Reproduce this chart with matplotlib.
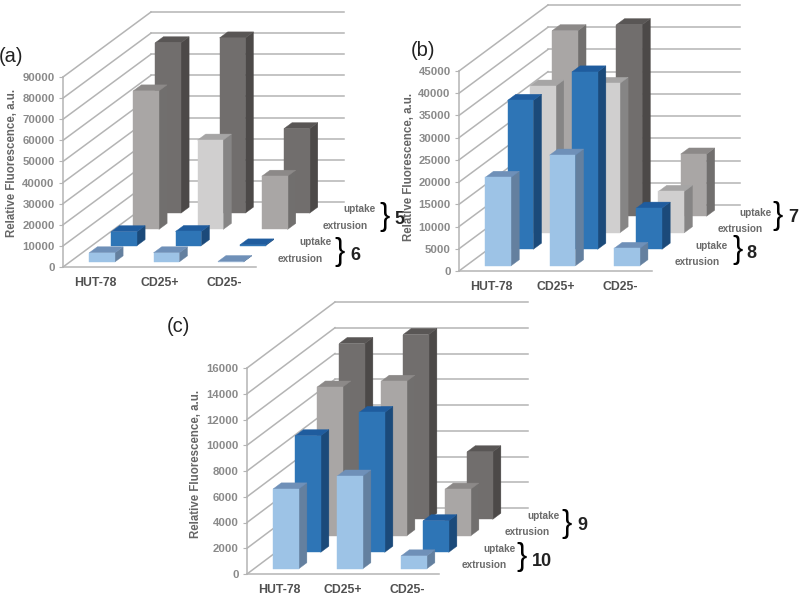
import matplotlib
matplotlib.use("Agg")
import matplotlib.pyplot as plt
from matplotlib.patches import Polygon

plt.rcParams["font.family"] = ["Liberation Sans", "DejaVu Sans"]

W_PX, H_PX = 800, 595

categories = ["HUT-78", "CD25+", "CD25-"]

# rows go front to back: blue extrusion, blue uptake, grey extrusion, grey uptake
values_a = [[4300, 4300, 150], [6600, 6700, 350], [65600, 42300, 25200], [80700, 83000, 40000]]
values_b = [[19900, 24900, 3900], [33500, 39900, 9250], [33000, 33600, 9300], [41750, 43100, 14000]]
values_c = [[6200, 7200, 1000], [9050, 10860, 2450], [11550, 12000, 3620], [13650, 14350, 5240]]

ticks_a = list(range(0, 90001, 10000))
ticks_b = list(range(0, 45001, 5000))
ticks_c = list(range(0, 16001, 2000))

# front, side, top
LIGHT_BLUE = ("#9dc3e6", "#64809f", "#6f90b8")
BLUE = ("#2e75b6", "#1b4a7a", "#1f5c9e")
MID_GREY = ("#a9a6a5", "#716f6e", "#8c8988")
LIGHT_GREY = ("#d0cfcf", "#868585", "#a6a5a5")
DARK_GREY = ("#716e6d", "#4c4948", "#595655")

colors_a = [[LIGHT_BLUE] * 3, [BLUE] * 3, [MID_GREY, LIGHT_GREY, MID_GREY], [DARK_GREY] * 3]
colors_b = [[LIGHT_BLUE] * 3, [BLUE] * 3, [LIGHT_GREY] * 3, [MID_GREY, DARK_GREY, MID_GREY]]
colors_c = [[LIGHT_BLUE] * 3, [BLUE] * 3, [MID_GREY] * 3, [DARK_GREY] * 3]

GRID = "#b4b4b4"
fig = plt.figure(figsize=(W_PX / 100, H_PX / 100), dpi=100)


def ftext(x, y, s, **kw):
    kw.setdefault("ha", "center")
    kw.setdefault("va", "center")
    fig.text(x / W_PX, 1 - y / H_PX, s, **kw)


def panel(left, right, bottom, top, depth_x, depth_y, back_end, ticks, values, colors):
    ax = fig.add_axes([left / W_PX, 1 - bottom / H_PX, (right - left) / W_PX, (bottom - top) / H_PX])
    ymax = ticks[-1]
    ax.set_xlim(0, 3)
    ax.set_ylim(0, ymax)
    ax.patch.set_visible(False)

    # one row of depth in data units
    row_x = depth_x / 4 / ((right - left) / 3)
    row_y = depth_y / 4 / ((bottom - top) / ymax)
    end_x = (back_end - left) / ((right - left) / 3)

    for t in ticks:
        ax.plot([0, 4 * row_x], [t, t + 4 * row_y], color=GRID, lw=1.1, clip_on=False, zorder=1)
        ax.plot([4 * row_x, end_x], [t + 4 * row_y, t + 4 * row_y], color=GRID, lw=1.1, clip_on=False, zorder=1)

    z = 2
    for row in range(3, -1, -1):
        d0, d1 = row + 0.315, row + 0.685
        for cat in range(3):
            v = values[row][cat]
            front, side, cap = colors[row][cat]
            x0, x1 = cat + 0.3, cat + 0.7
            fx0, fx1 = x0 + d0 * row_x, x1 + d0 * row_x
            bx1 = x1 + d1 * row_x
            bx0 = x0 + d1 * row_x
            by = d0 * row_y
            ty = d1 * row_y
            ax.add_patch(Polygon([(fx1, by), (bx1, ty), (bx1, ty + v), (fx1, by + v)],
                                 fc=side, ec=side, lw=0.3, clip_on=False, zorder=z))
            ax.add_patch(Polygon([(fx0, by + v), (fx1, by + v), (bx1, ty + v), (bx0, ty + v)],
                                 fc=cap, ec=cap, lw=0.3, clip_on=False, zorder=z))
            ax.add_patch(Polygon([(fx0, by), (fx1, by), (fx1, by + v), (fx0, by + v)],
                                 fc=front, ec=front, lw=0.3, clip_on=False, zorder=z))
            z += 1

    for s in ["top", "right"]:
        ax.spines[s].set_visible(False)
    for s in ["left", "bottom"]:
        ax.spines[s].set_color(GRID)
        ax.spines[s].set_linewidth(1.1)
    ax.set_yticks(ticks)
    ax.set_xticks([0.5, 1.5, 2.5])
    ax.set_xticklabels(categories)
    ax.tick_params(axis="y", length=3, color=GRID, pad=3, labelsize=8.2, labelcolor="#8a8a8a")
    ax.tick_params(axis="x", length=0, pad=7, labelsize=8.8, labelcolor="#505050")
    for lab in ax.get_xticklabels() + ax.get_yticklabels():
        lab.set_fontweight("bold")
    return ax


panel(63, 256, 267, 77, 88, 65, 344, ticks_a, values_a, colors_a)
panel(459, 652, 271, 71, 89, 66, 740, ticks_b, values_b, colors_b)
panel(247, 439, 574, 368, 88, 66, 528, ticks_c, values_c, colors_c)


def brace_group(up_xy, ext_xy, brace_xy, num_xy, num):
    ftext(*up_xy, "uptake", fontsize=7.2, fontweight="bold", color="#6a6a6a")
    ftext(*ext_xy, "extrusion", fontsize=7.2, fontweight="bold", color="#6a6a6a")
    ftext(*brace_xy, "}", fontsize=22, color="black")
    ftext(*num_xy, num, fontsize=13, fontweight="bold", color="#222222")


brace_group((360, 209), (345, 226), (385, 217), (399, 220), "5")
brace_group((316, 242), (300, 259), (340, 252), (355, 255), "6")
brace_group((756, 213), (740, 229), (778, 216), (793, 218), "7")
brace_group((712, 246), (697, 262), (738, 250), (751, 253), "8")
brace_group((543, 516), (527, 532), (567, 524), (582, 525), "9")
brace_group((499, 549), (484, 565), (522, 557), (542, 561), "10")

ylabel = dict(rotation=90, fontsize=8.3, fontweight="bold", color="#666666")
ftext(12, 163, "Relative Fluorescence, a.u.", **ylabel)
ftext(409, 167, "Relative Fluorescence, a.u.", **ylabel)
ftext(196, 464, "Relative Fluorescence, a.u.", **ylabel)

ftext(11, 57, "(a)", fontsize=14.5, color="#222222")
ftext(423, 51, "(b)", fontsize=14.5, color="#222222")
ftext(178, 327, "(c)", fontsize=14.5, color="#222222")

fig.savefig("out.png", dpi=100)
